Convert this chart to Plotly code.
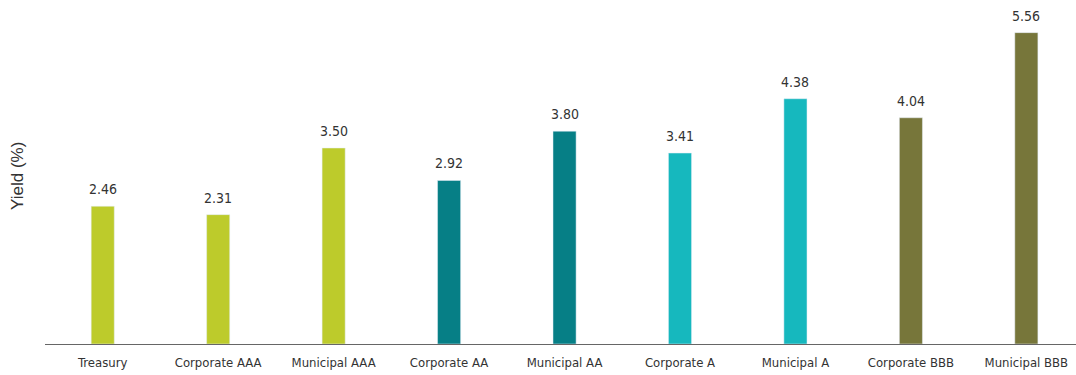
import plotly.graph_objects as go

categories = ["Treasury", "Corporate AAA", "Municipal AAA", "Corporate AA", "Municipal AA",
              "Corporate A", "Municipal A", "Corporate BBB", "Municipal BBB"]
yields = [2.46, 2.31, 3.50, 2.92, 3.80, 3.41, 4.38, 4.04, 5.56]
colors = ["#BDCB2B", "#BDCB2B", "#BDCB2B", "#067F86", "#067F86",
          "#16B8BE", "#16B8BE", "#77763A", "#77763A"]

font_cond = "Liberation Sans Narrow, DejaVu Sans Condensed, Arial Narrow, sans-serif"

fig = go.Figure(go.Bar(
    x=categories, y=yields, marker_color=colors, width=0.2,
    hoverinfo="x+y",
))

annotations = [dict(x=c, y=v, xref="x", yref="y", text=f"{v:.2f}", showarrow=False,
                    xanchor="center", yanchor="bottom", yshift=7,
                    font=dict(family=font_cond, size=14, color="#333333"))
               for c, v in zip(categories, yields)]
annotations.append(dict(text="Yield (%)", xref="paper", yref="paper", x=-28/1031, y=0.5,
                        xanchor="center", yanchor="middle", textangle=-90, showarrow=False,
                        font=dict(family="Liberation Sans, Arial, sans-serif", size=17, color="#333333")))

fig.update_layout(
    width=1076, height=375,
    margin=dict(l=45, r=0, t=8, b=31),
    paper_bgcolor="white", plot_bgcolor="white",
    showlegend=False,
    xaxis=dict(range=[-0.5, 8.43], showline=True, linecolor="#666666", linewidth=1,
               ticks="", ticklabelstandoff=6,
               tickfont=dict(family=font_cond, size=13, color="#333333")),
    yaxis=dict(range=[0, 6], showticklabels=False, showgrid=False, zeroline=False, showline=False),
    annotations=annotations,
)
fig.write_html("out.html")
